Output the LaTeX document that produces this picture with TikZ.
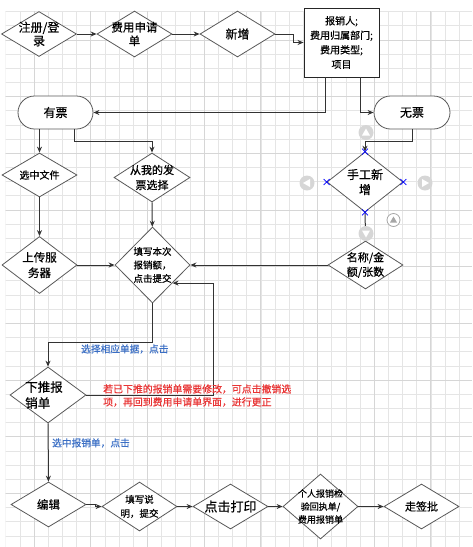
\documentclass[tikz,border=0pt]{standalone}
\usepackage{fontspec}
\setmainfont{Noto Sans CJK SC}[FakeBold=0.6]
\usetikzlibrary{arrows.meta, positioning, shapes.geometric, shapes.misc}

\definecolor{hintblue}{RGB}{58,110,196}
\definecolor{hintred}{RGB}{232,52,52}
\newcommand{\fsize}[2]{\fontsize{#1}{#2}\selectfont}

\begin{document}
\begin{tikzpicture}[x=1pt, y=-1pt,
    decision/.style={diamond, draw=black!65, fill=white, line width=0.8pt, inner sep=0pt},
    dtext/.style={align=center, inner sep=0pt},
    infobox/.style={draw=black!85, fill=white, line width=0.9pt, align=center, inner sep=0pt},
    ticket/.style={rounded rectangle, draw=black!65, fill=white, line width=0.8pt, inner sep=0pt},
    flow/.style={draw=black!80, line width=1pt, -{Stealth[length=6pt, width=5pt]}},
    note blue/.style={text=hintblue, font=\fsize{9.7}{12}, inner sep=0pt},
    note red/.style={text=hintred, font=\fsize{9.9}{13}, inner sep=0pt, align=left},
    grid minor/.style={draw=black!10, line width=0.7pt},
    grid major/.style={draw=black!16, line width=0.7pt},
    handle/.style={fill=black!16},
    xmark/.style={draw=blue, line width=0.6pt}]

    \useasboundingbox (0,0) rectangle (472,547);

    % background grid
    \begin{scope}
        \clip (5.5,11.5) rectangle (472,547);
        \foreach \i in {0,...,33}
            \draw[grid minor] ({5.8+14.17*\i},11) -- ({5.8+14.17*\i},547);
        \foreach \i in {0,...,38}
            \draw[grid minor] (5,{11.6+14.17*\i}) -- (472,{11.6+14.17*\i});
        \foreach \i in {0,...,8}
            \draw[grid major] ({34.1+56.67*\i},11) -- ({34.1+56.67*\i},547);
        \foreach \i in {0,...,9}
            \draw[grid major] (5,{39.9+56.67*\i}) -- (472,{39.9+56.67*\i});
    \end{scope}

    % top row
    \node[decision, minimum width=75, minimum height=45,
          label={[dtext, font=\fsize{12}{13.5}]center:{注册/登\\录}}] (login) at (39,34) {};
    \node[decision, minimum width=75, minimum height=46,
          label={[dtext, font=\fsize{11.5}{13.5}]center:{费用申请\\单}}] (apply) at (134.5,34) {};
    \node[decision, minimum width=75, minimum height=46,
          label={[dtext, font=\fsize{12}{14}]center:新增}] (newitem) at (237.5,34) {};
    \node[infobox, minimum width=75, minimum height=69, font=\fsize{10}{14.5}] (info)
          at (341.5,42.5) {报销人;\\费用归属部门;\\费用类型;\\项目};

    % ticket branches
    \node[ticket, minimum width=75, minimum height=33, font=\fsize{12}{14}] (hasinv) at (55.5,112.5) {有票};
    \node[ticket, minimum width=76, minimum height=33, font=\fsize{12}{14}] (noinv) at (412,112.5) {无票};

    \node[decision, minimum width=75, minimum height=44,
          label={[dtext, font=\fsize{10}{12}]center:选中文件}] (pickfile) at (39.5,175) {};
    \node[decision, minimum width=76, minimum height=49,
          label={[dtext, font=\fsize{11}{15}]center:{从我的发\\票选择}}] (frommine) at (152,177.5) {};
    \node[decision, minimum width=76, minimum height=60,
          label={[dtext, font=\fsize{12}{15}]center:{手工新\\增}}] (manual) at (365,182) {};

    \node[decision, minimum width=75, minimum height=57,
          label={[dtext, font=\fsize{11.5}{15.5}]center:{上传服\\务器}}] (upload) at (39.5,265) {};
    \node[decision, minimum width=75, minimum height=76,
          label={[dtext, font=\fsize{9.5}{13.5}]center:{填写本次\\报销额，\\点击提交}}] (fillsum) at (152.5,265) {};
    \node[decision, minimum width=75, minimum height=48,
          label={[dtext, font=\fsize{11}{14.5}]center:{名称/金\\额/张数}}] (amount) at (365.5,265) {};

    \node[decision, minimum width=76, minimum height=56,
          label={[dtext, align=left, xshift=-4pt, font=\fsize{12.5}{16}]center:{下推报\\销单}}] (pushdown) at (48,395) {};

    % bottom row
    \node[decision, minimum width=75, minimum height=45,
          label={[dtext, font=\fsize{11.5}{14}]center:编辑}] (edit) at (48.5,504.5) {};
    \node[decision, minimum width=75, minimum height=49,
          label={[dtext, font=\fsize{9.5}{14}]center:{填写说\\明，提交}}] (filldesc) at (139.5,506.5) {};
    \node[decision, minimum width=75, minimum height=45,
          label={[dtext, font=\fsize{13}{15}]center:点击打印}] (print) at (230.5,506.5) {};
    \node[decision, minimum width=75, minimum height=65,
          label={[dtext, font=\fsize{9}{13}]center:{个人报销检\\验回执单/\\费用报销单}}] (receipt) at (320.5,506.5) {};
    \node[decision, minimum width=75, minimum height=45,
          label={[dtext, font=\fsize{11}{13}]center:走签批}] (approve) at (421.5,506.5) {};

    % connectors
    \draw[flow] (login) -- (apply);
    \draw[flow] (apply) -- (newitem);
    \draw[flow] (newitem.east) -- ++(18,0) |- (info.west);
    \draw[flow] ([xshift=-16.5pt]info.south) |- (hasinv.east);
    \draw[flow] ([xshift=18.5pt]info.south) |- (noinv.west);
    \draw[flow] (pickfile.north |- hasinv.south) -- (pickfile.north);
    \draw[flow] ([xshift=18.5pt]hasinv.south) -- ++(0,12) -| (frommine.north);
    \draw[flow] (noinv.south) -- ++(0,12) -| (manual.north);
    \draw[flow] (pickfile) -- (upload);
    \draw[flow] (upload) -- (fillsum);
    \draw[flow] (frommine) -- (fillsum);
    \draw[flow] (manual) -- (amount);
    \draw[flow] (amount) -- (fillsum);
    \draw[flow] (fillsum.south) -- ++(0,39) -| (pushdown.north);
    \draw[flow] (pushdown.east) -- ++(127,0) |- (fillsum.-42);
    \draw[flow] (pushdown) -- (edit);
    \draw[flow] (edit.east) -- ++(9,0) |- (filldesc.west);
    \draw[flow] (filldesc) -- (print);
    \draw[flow] (print) -- (receipt);
    \draw[flow] (receipt) -- (approve);

    % hints
    \node[note blue, anchor=west] (pickhint) at (81,349) {选择相应单据，点击};
    \node[note blue, anchor=west] (edithint) at (52,443) {选中报销单，点击};
    \node[note red, anchor=west] (undohint) at (103,395.5)
        {若已下推的报销单需要修改，可点击撤销选\\项，再回到费用申请单界面，进行更正};

    % selection handles round the manual entry
    \fill[handle] (366,132.5) circle (7.5);
    \fill[white] (366,128.5) -- (362,135.5) -- (370,135.5) -- cycle;
    \fill[handle] (307,183) circle (7.5);
    \fill[white] (303,183) -- (310,179) -- (310,187) -- cycle;
    \fill[handle] (425,183) circle (7.5);
    \fill[white] (429,183) -- (422,179) -- (422,187) -- cycle;
    \fill[handle] (366,233.5) circle (7.5);
    \fill[white] (366,237.5) -- (362,230.5) -- (370,230.5) -- cycle;
    \draw[black!35, fill=white, line width=0.8pt] (393.5,220) circle (6.5);
    \fill[black!35] (393.5,216.5) -- (390,222.5) -- (397,222.5) -- cycle;
    \foreach \a in {north, south, east, west}
        \draw[xmark, shift={(manual.\a)}] (-3,-3) -- (3,3) (-3,3) -- (3,-3);
\end{tikzpicture}
\end{document}
